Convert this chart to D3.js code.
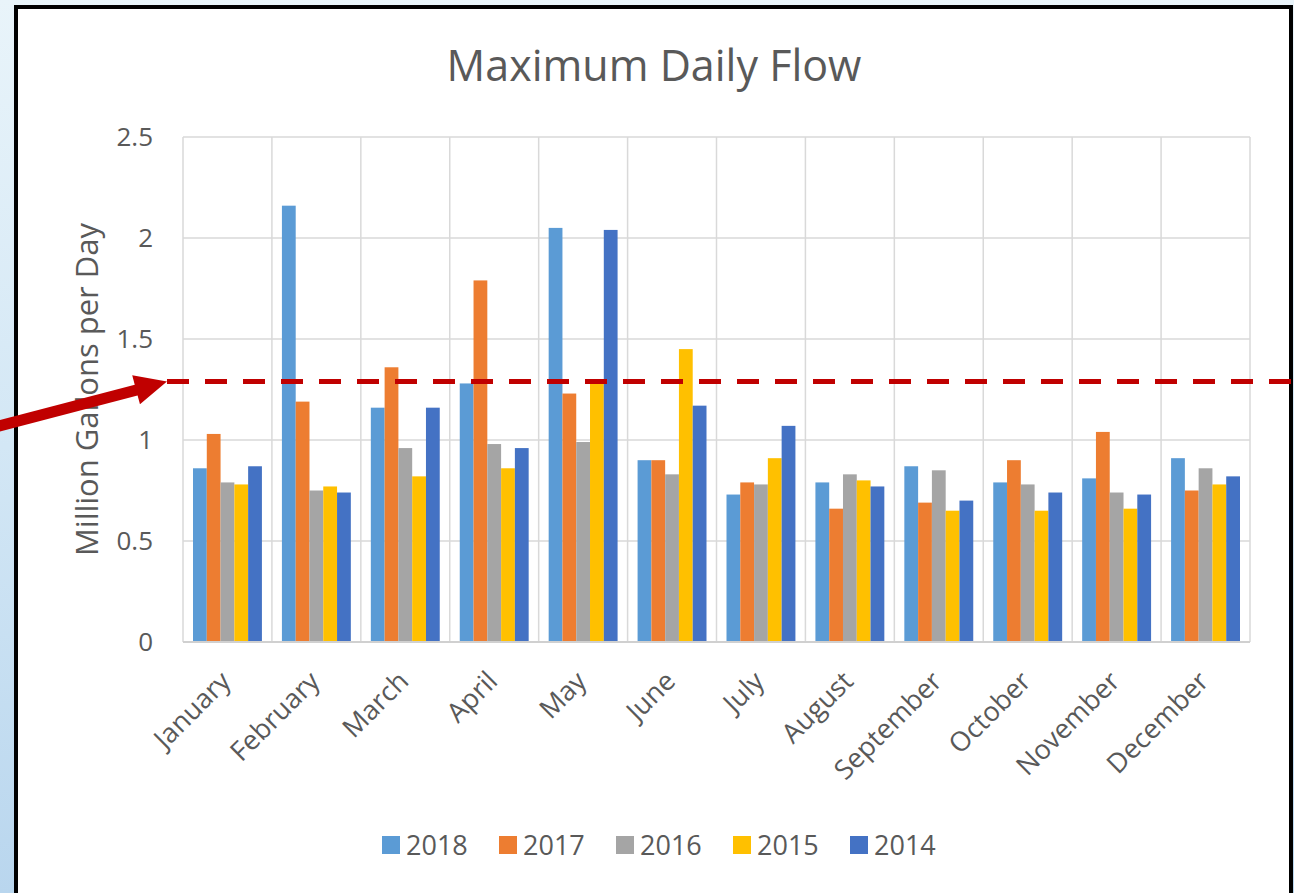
<!DOCTYPE html>
<html>
<head>
<meta charset="utf-8">
<script src="https://cdn.jsdelivr.net/npm/d3@7"></script>
<style>
  html, body { margin: 0; padding: 0; }
  body {
    width: 1294px; height: 893px; overflow: hidden;
    background: linear-gradient(to bottom, #e9f4fa 0%, #d3e7f5 50%, #b9d6ee 100%);
    font-family: "Open Sans", sans-serif;
  }
</style>
</head>
<body>
<div id="chart"></div>
<script>
// Data
const months = ["January", "February", "March", "April", "May", "June",
  "July", "August", "September", "October", "November", "December"];
const years = ["2018", "2017", "2016", "2015", "2014"];
const flow2018 = [0.86, 2.16, 1.16, 1.28, 2.05, 0.90, 0.73, 0.79, 0.87, 0.79, 0.81, 0.91];
const flow2017 = [1.03, 1.19, 1.36, 1.79, 1.23, 0.90, 0.79, 0.66, 0.69, 0.90, 1.04, 0.75];
const flow2016 = [0.79, 0.75, 0.96, 0.98, 0.99, 0.83, 0.78, 0.83, 0.85, 0.78, 0.74, 0.86];
const flow2015 = [0.78, 0.77, 0.82, 0.86, 1.29, 1.45, 0.91, 0.80, 0.65, 0.65, 0.66, 0.78];
const flow2014 = [0.87, 0.74, 1.16, 0.96, 2.04, 1.17, 1.07, 0.77, 0.70, 0.74, 0.73, 0.82];
const yTicks = [0, 0.5, 1, 1.5, 2, 2.5];
const limitValue = 1.29;

const seriesValues = [flow2018, flow2017, flow2016, flow2015, flow2014];
const colors = ["#5b9bd5", "#ed7d31", "#a5a5a5", "#ffc000", "#4472c4"];

const W = 1294, H = 893;
const plot = { left: 183, right: 1250, top: 137, bottom: 642 };

const svg = d3.select("#chart").append("svg")
    .attr("width", W)
    .attr("height", H);

// white card with black frame
svg.append("rect")
    .attr("x", 16).attr("y", 7)
    .attr("width", 1275).attr("height", H + 20)
    .attr("fill", "#ffffff")
    .attr("stroke", "#000")
    .attr("stroke-width", 4);

// Scales
const x0 = d3.scaleBand().domain(months).range([plot.left, plot.right]).padding(0);
const x1 = d3.scaleBand().domain(years).range([10, x0.bandwidth() - 10]).padding(0);
const y = d3.scaleLinear().domain([0, 2.5]).range([plot.bottom, plot.top]);

// Gridlines
const grid = svg.append("g");
grid.selectAll(".hgrid")
    .data(yTicks.slice(1))
    .enter().append("line")
    .attr("x1", plot.left).attr("x2", plot.right)
    .attr("y1", d => y(d)).attr("y2", d => y(d))
    .attr("stroke", "#d9d9d9").attr("stroke-width", 1.5);
grid.selectAll(".vgrid")
    .data(months.map(m => x0(m)).concat([plot.right]))
    .enter().append("line")
    .attr("x1", d => d).attr("x2", d => d)
    .attr("y1", plot.top).attr("y2", plot.bottom)
    .attr("stroke", "#d9d9d9").attr("stroke-width", 1.5);

// Bars
const groups = svg.selectAll(".month")
    .data(months)
    .enter().append("g")
    .attr("transform", d => `translate(${x0(d)},0)`);

groups.selectAll("rect")
    .data((m, i) => years.map((yr, k) => ({ year: yr, k, value: seriesValues[k][i] })))
    .enter().append("rect")
    .attr("x", d => x1(d.year))
    .attr("width", x1.bandwidth())
    .attr("y", d => y(d.value))
    .attr("height", d => plot.bottom - y(d.value))
    .attr("fill", d => colors[d.k]);

// Axis baseline
svg.append("line")
    .attr("x1", plot.left).attr("x2", plot.right)
    .attr("y1", plot.bottom).attr("y2", plot.bottom)
    .attr("stroke", "#d0d0d0").attr("stroke-width", 2);

// Y tick labels
svg.append("g").selectAll("text")
    .data(yTicks)
    .enter().append("text")
    .attr("x", 153)
    .attr("y", d => y(d))
    .attr("dy", "0.36em")
    .attr("text-anchor", "end")
    .attr("font-size", 26)
    .attr("fill", "#595959")
    .text(d => d);

// X labels, rotated
svg.append("g").selectAll("text")
    .data(months)
    .enter().append("text")
    .attr("transform", d => `translate(${x0(d) + x0.bandwidth() / 2 - 2},${plot.bottom + 34}) rotate(-45)`)
    .attr("text-anchor", "end")
    .attr("dy", "0.36em")
    .attr("font-size", 27)
    .attr("fill", "#595959")
    .text(d => d);

// Title
svg.append("text")
    .attr("x", 654).attr("y", 81)
    .attr("text-anchor", "middle")
    .attr("font-size", 43)
    .attr("fill", "#595959")
    .text("Maximum Daily Flow");

// Y axis title
svg.append("text")
    .attr("transform", `translate(98,${(plot.top + plot.bottom) / 2}) rotate(-90)`)
    .attr("text-anchor", "middle")
    .attr("font-size", 31)
    .attr("fill", "#595959")
    .text("Million Gallons per Day");

// Legend
const legend = svg.append("g").selectAll("g")
    .data(years)
    .enter().append("g")
    .attr("transform", (d, i) => `translate(${382 + i * 117},836)`);
legend.append("rect")
    .attr("width", 18).attr("height", 18)
    .attr("fill", (d, i) => colors[i]);
legend.append("text")
    .attr("x", 24).attr("y", 19)
    .attr("font-size", 27)
    .attr("fill", "#595959")
    .text(d => d);

// Red dashed limit line
svg.append("line")
    .attr("x1", 167).attr("x2", 1292)
    .attr("y1", y(limitValue)).attr("y2", y(limitValue))
    .attr("stroke", "#c00000")
    .attr("stroke-width", 5)
    .attr("stroke-dasharray", "22 16");

// Arrow pointing to the line
const tip = [167, y(limitValue)];
const ang = Math.atan2(tip[1] - 426, tip[0] - 0);
const headLen = 32, headHalf = 15;
const bx = tip[0] - headLen * Math.cos(ang), by = tip[1] - headLen * Math.sin(ang);
svg.append("line")
    .attr("x1", -5).attr("y1", 427)
    .attr("x2", bx + 2).attr("y2", by)
    .attr("stroke", "#c00000")
    .attr("stroke-width", 11);
svg.append("path")
    .attr("d", `M${tip[0]},${tip[1]} L${bx - headHalf * Math.sin(ang)},${by + headHalf * Math.cos(ang)} L${bx + headHalf * Math.sin(ang)},${by - headHalf * Math.cos(ang)} Z`)
    .attr("fill", "#c00000");
</script>
</body>
</html>
